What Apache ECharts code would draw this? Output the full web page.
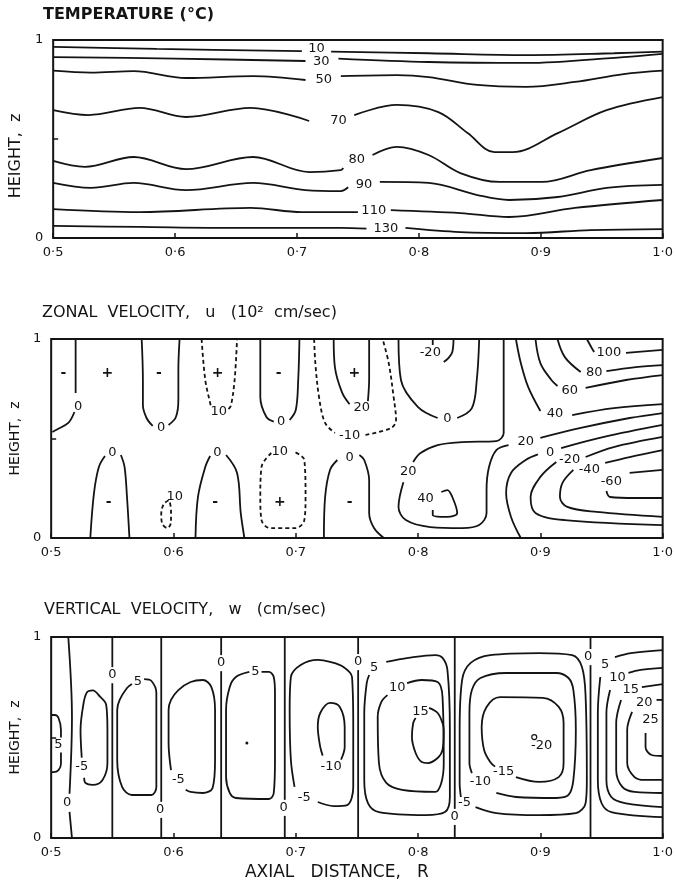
<!DOCTYPE html>
<html>
<head>
<meta charset="utf-8">
<title>Temperature and velocity sections</title>
<script src="https://cdn.jsdelivr.net/npm/echarts@6/dist/echarts.min.js"></script>
<style>
  html, body { margin: 0; padding: 0; background: #fff; }
  #chart { width: 676px; height: 882px; }
</style>
</head>
<body>
<div id="chart"></div>
<script>
// ---- data: contour lines in (R, z) with label anchors ----
const R_TICKS = ['0·5', '0·6', '0·7', '0·8', '0·9', '1·0'];
const Z_TICKS = ['0', '', '1'];

const PANEL_TITLES = [
  'TEMPERATURE (°C)',
  'ZONAL  VELOCITY,   u   (10²  cm/sec)',
  'VERTICAL  VELOCITY,   w   (cm/sec)'
];

// Temperature, °C
const temperature = [
  { level: 10, at: [[0.716, 0.955]], segs: [
    [[0.500, 0.965], [0.585, 0.955], [0.704, 0.944]],
    [[0.728, 0.941], [0.808, 0.933], [0.888, 0.924], [0.960, 0.933], [1.0, 0.941]]] },
  { level: 30, at: [[0.720, 0.889]], segs: [
    [[0.500, 0.914], [0.600, 0.906], [0.707, 0.894]],
    [[0.734, 0.906], [0.808, 0.889], [0.888, 0.884], [0.968, 0.914], [1.0, 0.930]]] },
  { level: 50, at: [[0.722, 0.798]], segs: [
    [[0.500, 0.845], [0.531, 0.835], [0.566, 0.843], [0.609, 0.808], [0.664, 0.818], [0.707, 0.798]],
    [[0.736, 0.818], [0.782, 0.823], [0.808, 0.813], [0.848, 0.773], [0.888, 0.763], [0.928, 0.788], [0.968, 0.828], [1.0, 0.845]]] },
  { level: 70, at: [[0.734, 0.591]], segs: [
    [[0.500, 0.646], [0.529, 0.621], [0.571, 0.657], [0.609, 0.611], [0.662, 0.657], [0.710, 0.591]],
    [[0.747, 0.621], [0.782, 0.672], [0.816, 0.636], [0.840, 0.530], [0.862, 0.434], [0.877, 0.434], [0.914, 0.530], [0.954, 0.646], [1.0, 0.712]]] },
  { level: 80, at: [[0.749, 0.394]], segs: [
    [[0.500, 0.389], [0.526, 0.359], [0.566, 0.409], [0.609, 0.348], [0.664, 0.409], [0.710, 0.333], [0.736, 0.343], [0.738, 0.354]],
    [[0.762, 0.419], [0.782, 0.460], [0.808, 0.419], [0.834, 0.328], [0.866, 0.283], [0.901, 0.283], [0.941, 0.343], [1.0, 0.404]]] },
  { level: 90, at: [[0.755, 0.268]], segs: [
    [[0.500, 0.278], [0.531, 0.253], [0.566, 0.278], [0.609, 0.242], [0.664, 0.278], [0.707, 0.242], [0.736, 0.237], [0.742, 0.256]],
    [[0.768, 0.283], [0.808, 0.278], [0.848, 0.217], [0.874, 0.192], [0.914, 0.207], [0.954, 0.253], [1.0, 0.268]]] },
  { level: 110, at: [[0.763, 0.136]], segs: [
    [[0.500, 0.146], [0.571, 0.131], [0.662, 0.152], [0.704, 0.131], [0.750, 0.131]],
    [[0.777, 0.141], [0.834, 0.126], [0.874, 0.106], [0.928, 0.152], [1.0, 0.192]]] },
  { level: 130, at: [[0.773, 0.045]], segs: [
    [[0.500, 0.061], [0.571, 0.056], [0.651, 0.051], [0.736, 0.051], [0.757, 0.047]],
    [[0.789, 0.051], [0.834, 0.030], [0.888, 0.025], [0.941, 0.040], [1.0, 0.045]]] }
];

// Zonal velocity, 10^2 cm/sec (dashed = 10 contours)
const zonal = [
  { level: 0, at: [[0.522, 0.658]], segs: [
    [[0.520, 1.0], [0.520, 0.86], [0.520, 0.729]],
    [[0.519, 0.633], [0.514, 0.578], [0.504, 0.543], [0.501, 0.533]]] },
  { level: 0, at: [[0.590, 0.553]], segs: [
    [[0.574, 1.0], [0.575, 0.794], [0.575, 0.668], [0.578, 0.603], [0.583, 0.563]],
    [[0.596, 0.568], [0.602, 0.608], [0.604, 0.693], [0.604, 0.844], [0.605, 1.0]]] },
  { level: 10, dashed: true, at: [[0.637, 0.633]], segs: [
    [[0.623, 1.0], [0.626, 0.794], [0.630, 0.678], [0.631, 0.655]],
    [[0.645, 0.648], [0.647, 0.665], [0.650, 0.794], [0.652, 1.0]]] },
  { level: 0, at: [[0.688, 0.583]], segs: [
    [[0.671, 1.0], [0.671, 0.709], [0.676, 0.608], [0.682, 0.585]],
    [[0.695, 0.593], [0.700, 0.643], [0.702, 0.794], [0.703, 1.0]]] },
  { level: -10, dashed: true, at: [[0.744, 0.513]], segs: [
    [[0.715, 1.0], [0.716, 0.879], [0.719, 0.709], [0.724, 0.578], [0.732, 0.528]],
    [[0.757, 0.518], [0.778, 0.553], [0.782, 0.593], [0.780, 0.709], [0.776, 0.879], [0.771, 1.0]]] },
  { level: 20, at: [[0.754, 0.653]], segs: [
    [[0.731, 1.0], [0.732, 0.859], [0.738, 0.729], [0.744, 0.672]],
    [[0.759, 0.688], [0.760, 0.80], [0.760, 1.0]]] },
  { level: 0, at: [[0.824, 0.598]], segs: [
    [[0.784, 1.0], [0.786, 0.794], [0.800, 0.658], [0.816, 0.603]],
    [[0.832, 0.603], [0.844, 0.653], [0.848, 0.794], [0.850, 1.0]]] },
  { level: -20, at: [[0.810, 0.93]], segs: [
    [[0.812, 1.0], [0.812, 0.97]],
    [[0.821, 0.884], [0.825, 0.905], [0.828, 0.935], [0.829, 1.0]]] },
  { level: 20, at: [[0.792, 0.332], [0.888, 0.482]], segs: [
    [[0.870, 1.0], [0.870, 0.70], [0.870, 0.528], [0.864, 0.487], [0.836, 0.482], [0.816, 0.467], [0.802, 0.427], [0.796, 0.382]],
    [[0.788, 0.280], [0.784, 0.156], [0.790, 0.09], [0.810, 0.055], [0.836, 0.05], [0.850, 0.065], [0.856, 0.126], [0.856, 0.241], [0.858, 0.357], [0.864, 0.442], [0.874, 0.467]],
    [[0.900, 0.503], [0.933, 0.553], [0.973, 0.603], [1.0, 0.628]]] },
  { level: 40, at: [[0.806, 0.196]], segs: [
    [[0.819, 0.231], [0.824, 0.241], [0.828, 0.206], [0.832, 0.126], [0.824, 0.106], [0.812, 0.116], [0.812, 0.141]]] },
  { level: 40, at: [[0.912, 0.623]], segs: [
    [[0.880, 1.0], [0.884, 0.879], [0.890, 0.759], [0.900, 0.638]],
    [[0.926, 0.618], [0.960, 0.653], [1.0, 0.673]]] },
  { level: 60, at: [[0.924, 0.739]], segs: [
    [[0.896, 1.0], [0.900, 0.879], [0.909, 0.794], [0.914, 0.764]],
    [[0.937, 0.754], [0.970, 0.794], [1.0, 0.819]]] },
  { level: 80, at: [[0.944, 0.829]], segs: [
    [[0.914, 1.0], [0.920, 0.909], [0.933, 0.834]],
    [[0.954, 0.839], [0.978, 0.859], [1.0, 0.869]]] },
  { level: 100, at: [[0.956, 0.93]], segs: [
    [[0.938, 1.0], [0.942, 0.955], [0.944, 0.935]],
    [[0.970, 0.93], [1.0, 0.945]]] },
  { level: 0, at: [[0.908, 0.427]], segs: [
    [[0.884, 0.0], [0.876, 0.106], [0.872, 0.226], [0.876, 0.327], [0.888, 0.392], [0.898, 0.42]],
    [[0.917, 0.452], [0.952, 0.508], [1.0, 0.568]]] },
  { level: -20, at: [[0.924, 0.392]], segs: [
    [[0.937, 0.407], [0.960, 0.457], [1.0, 0.508]],
    [[0.913, 0.382], [0.900, 0.307], [0.892, 0.206], [0.896, 0.126], [0.920, 0.09], [1.0, 0.065]]] },
  { level: -40, at: [[0.940, 0.342]], segs: [
    [[0.953, 0.377], [0.973, 0.407], [1.0, 0.442]],
    [[0.927, 0.342], [0.918, 0.276], [0.916, 0.206], [0.922, 0.156], [0.946, 0.131], [1.0, 0.106]]] },
  { level: -60, at: [[0.958, 0.281]], segs: [
    [[0.973, 0.327], [1.0, 0.342]],
    [[0.954, 0.236], [0.957, 0.206], [0.978, 0.201], [1.0, 0.201]]] },
  { level: 0, at: [[0.550, 0.427]], segs: [
    [[0.532, 0.0], [0.535, 0.226], [0.539, 0.357], [0.544, 0.412]],
    [[0.557, 0.417], [0.560, 0.357], [0.562, 0.206], [0.564, 0.0]]] },
  { level: 10, dashed: true, at: [[0.601, 0.21]], segs: [
    [[0.596, 0.19], [0.592, 0.17], [0.590, 0.12], [0.591, 0.07], [0.595, 0.05], [0.598, 0.08], [0.598, 0.14], [0.597, 0.18]]] },
  { level: 0, at: [[0.636, 0.427]], segs: [
    [[0.618, 0.0], [0.620, 0.206], [0.626, 0.357], [0.630, 0.412]],
    [[0.643, 0.417], [0.652, 0.327], [0.655, 0.126], [0.658, 0.0]]] },
  { level: 10, dashed: true, at: [[0.687, 0.432]], segs: [
    [[0.680, 0.427], [0.672, 0.357], [0.671, 0.206], [0.672, 0.09], [0.679, 0.05], [0.700, 0.05], [0.707, 0.09], [0.708, 0.206], [0.707, 0.392], [0.698, 0.435]]] },
  { level: 0, at: [[0.744, 0.402]], segs: [
    [[0.723, 0.0], [0.724, 0.206], [0.728, 0.342], [0.734, 0.392]],
    [[0.752, 0.417], [0.756, 0.392], [0.760, 0.291], [0.760, 0.126], [0.764, 0.05], [0.772, 0.0]]] }
];

// Sign marks of the zonal cells: [text, R, z]
const zonalSigns = [
  ['-', 0.510, 0.829], ['+', 0.546, 0.829], ['-', 0.588, 0.829],
  ['+', 0.636, 0.829], ['-', 0.686, 0.829], ['+', 0.748, 0.829],
  ['-', 0.547, 0.181], ['-', 0.634, 0.181], ['+', 0.687, 0.181], ['-', 0.744, 0.181]
];

// Vertical velocity, cm/sec
const vertical = [
  { level: 0, at: [[0.513, 0.174]], segs: [[[0.514, 1.0], [0.517, 0.60], [0.515, 0.22]], [[0.515, 0.13], [0.517, 0.0]]] },
  { level: 0, at: [[0.550, 0.811]], segs: [[[0.550, 1.0], [0.550, 0.85]], [[0.550, 0.77], [0.550, 0.0]]] },
  { level: 0, at: [[0.589, 0.139]], segs: [[[0.590, 1.0], [0.590, 0.18]], [[0.590, 0.10], [0.590, 0.0]]] },
  { level: 0, at: [[0.639, 0.871]], segs: [[[0.639, 1.0], [0.639, 0.91]], [[0.639, 0.83], [0.639, 0.0]]] },
  { level: 0, at: [[0.690, 0.149]], segs: [[[0.691, 1.0], [0.691, 0.19]], [[0.691, 0.11], [0.691, 0.0]]] },
  { level: 0, at: [[0.751, 0.876]], segs: [[[0.751, 1.0], [0.751, 0.915]], [[0.751, 0.835], [0.751, 0.0]]] },
  { level: 0, at: [[0.830, 0.104]], segs: [[[0.830, 1.0], [0.830, 0.145]], [[0.830, 0.065], [0.830, 0.0]]] },
  { level: 0, at: [[0.939, 0.90]], segs: [[[0.941, 1.0], [0.941, 0.94]], [[0.941, 0.86], [0.941, 0.0]]] },
  { level: 5, at: [[0.506, 0.463]], segs: [
    [[0.500, 0.612], [0.503, 0.612], [0.506, 0.597], [0.508, 0.537], [0.508, 0.50]],
    [[0.508, 0.425], [0.508, 0.37], [0.506, 0.338], [0.502, 0.328], [0.500, 0.328]]] },
  { level: -5, at: [[0.525, 0.353]], segs: [
    [[0.525, 0.40], [0.524, 0.537], [0.526, 0.652], [0.529, 0.722], [0.534, 0.734], [0.540, 0.703], [0.545, 0.662], [0.546, 0.537], [0.546, 0.373], [0.542, 0.289], [0.534, 0.264], [0.528, 0.274], [0.527, 0.30]]] },
  { level: 5, at: [[0.571, 0.776]], segs: [
    [[0.576, 0.79], [0.582, 0.781], [0.586, 0.721], [0.586, 0.537], [0.586, 0.254], [0.582, 0.214], [0.566, 0.214], [0.558, 0.254], [0.554, 0.388], [0.554, 0.637], [0.556, 0.687], [0.562, 0.746], [0.566, 0.766]]] },
  { level: -5, at: [[0.604, 0.289]], segs: [
    [[0.610, 0.24], [0.614, 0.229], [0.624, 0.224], [0.632, 0.249], [0.634, 0.388], [0.634, 0.637], [0.631, 0.751], [0.624, 0.786], [0.614, 0.776], [0.604, 0.736], [0.598, 0.687], [0.596, 0.637], [0.596, 0.473], [0.598, 0.338]]] },
  { level: 5, at: [[0.667, 0.826]], segs: [
    [[0.672, 0.826], [0.678, 0.826], [0.682, 0.801], [0.683, 0.721], [0.683, 0.388], [0.682, 0.224], [0.678, 0.194], [0.651, 0.199], [0.646, 0.224], [0.643, 0.303], [0.643, 0.637], [0.646, 0.751], [0.651, 0.801], [0.662, 0.826]]] },
  { level: -5, at: [[0.707, 0.199]], segs: [
    [[0.718, 0.179], [0.731, 0.159], [0.742, 0.164], [0.747, 0.254], [0.747, 0.552], [0.746, 0.801], [0.739, 0.851], [0.728, 0.876], [0.718, 0.886], [0.704, 0.861], [0.696, 0.801], [0.695, 0.637], [0.696, 0.388], [0.699, 0.254]]] },
  { level: -10, at: [[0.729, 0.353]], segs: [
    [[0.737, 0.39], [0.740, 0.453], [0.740, 0.552], [0.736, 0.652], [0.728, 0.672], [0.720, 0.622], [0.718, 0.552], [0.720, 0.453], [0.722, 0.41]]] },
  { level: 5, at: [[0.764, 0.846]], segs: [
    [[0.774, 0.876], [0.792, 0.896], [0.814, 0.910], [0.820, 0.896], [0.824, 0.836], [0.826, 0.537], [0.826, 0.204], [0.822, 0.129], [0.806, 0.114], [0.768, 0.129], [0.759, 0.174], [0.756, 0.289], [0.756, 0.622], [0.758, 0.771], [0.760, 0.811]]] },
  { level: 10, at: [[0.783, 0.746]], segs: [
    [[0.791, 0.771], [0.803, 0.786], [0.816, 0.776], [0.820, 0.701], [0.821, 0.373], [0.819, 0.274], [0.814, 0.229], [0.787, 0.239], [0.774, 0.274], [0.768, 0.373], [0.767, 0.602], [0.770, 0.677], [0.775, 0.711]]] },
  { level: 15, at: [[0.802, 0.627]], segs: [
    [[0.809, 0.647], [0.816, 0.622], [0.820, 0.572], [0.821, 0.537], [0.820, 0.438], [0.816, 0.398], [0.808, 0.373], [0.803, 0.378], [0.798, 0.423], [0.795, 0.502], [0.796, 0.572], [0.798, 0.597]]] },
  { level: -5, at: [[0.838, 0.174]], segs: [
    [[0.847, 0.154], [0.864, 0.124], [0.899, 0.114], [0.929, 0.124], [0.937, 0.174], [0.938, 0.289], [0.937, 0.701], [0.934, 0.851], [0.926, 0.91], [0.899, 0.92], [0.859, 0.91], [0.843, 0.871], [0.836, 0.786], [0.834, 0.537], [0.834, 0.274], [0.835, 0.204]]] },
  { level: -10, at: [[0.851, 0.279]], segs: [
    [[0.864, 0.224], [0.880, 0.204], [0.913, 0.199], [0.923, 0.214], [0.927, 0.289], [0.929, 0.537], [0.927, 0.736], [0.923, 0.796], [0.913, 0.821], [0.872, 0.821], [0.851, 0.796], [0.844, 0.736], [0.842, 0.622], [0.842, 0.373], [0.844, 0.323]]] },
  { level: -15, at: [[0.870, 0.328]], segs: [
    [[0.880, 0.303], [0.899, 0.279], [0.915, 0.303], [0.919, 0.373], [0.919, 0.572], [0.915, 0.652], [0.902, 0.697], [0.867, 0.701], [0.856, 0.652], [0.852, 0.552], [0.854, 0.438], [0.859, 0.378], [0.863, 0.355]]] },
  { level: 5, at: [[0.953, 0.861]], segs: [
    [[0.961, 0.900], [0.974, 0.920], [1.0, 0.935]],
    [[0.949, 0.801], [0.947, 0.622], [0.947, 0.289], [0.950, 0.174], [0.958, 0.129], [1.0, 0.104]]] },
  { level: 10, at: [[0.963, 0.796]], segs: [
    [[0.972, 0.821], [0.982, 0.836], [1.0, 0.846]],
    [[0.957, 0.736], [0.954, 0.622], [0.954, 0.289], [0.958, 0.204], [0.969, 0.174], [1.0, 0.154]]] },
  { level: 15, at: [[0.974, 0.736]], segs: [
    [[0.983, 0.751], [1.0, 0.766]],
    [[0.966, 0.687], [0.962, 0.572], [0.962, 0.338], [0.967, 0.254], [0.977, 0.229], [1.0, 0.224]]] },
  { level: 20, at: [[0.985, 0.672]], segs: [
    [[0.995, 0.687], [1.0, 0.687]],
    [[0.975, 0.627], [0.971, 0.537], [0.971, 0.373], [0.977, 0.303], [0.985, 0.289], [1.0, 0.289]]] },
  { level: 25, at: [[0.990, 0.587]], segs: [
    [[0.986, 0.522], [0.986, 0.453], [0.991, 0.413], [1.0, 0.408]]] }
];

// Extremum of the w cell near R = 0.9, and cell centre marks
const verticalExtrema = [{ text: '-20', at: [0.901, 0.458] }];
const verticalCentres = [[0.895, 0.502, 'open'], [0.660, 0.473, 'dot']];

// ---- styling ----
const INK = '#141414';
const FONT = '"DejaVu Sans", "Liberation Sans", sans-serif';
const GRIDS = [
  { left: 44, top: 40, width: 626, height: 198 },
  { left: 43, top: 339, width: 624, height: 199 },
  { left: 45, top: 637, width: 624, height: 201 }
];
const TITLE_TOPS = [7, 305, 602];
const LABEL_STYLE = { color: INK, fontFamily: FONT, fontSize: 13, textBorderWidth: 0, opacity: 1 };

const series = [];

// Text placed at data coordinates through a custom series
function textSeries(panel, items, extra) {
  const style = Object.assign({}, LABEL_STYLE, extra || {});
  return {
    type: 'custom', xAxisIndex: panel, yAxisIndex: panel, silent: true, z: 3,
    data: items.map(t => [t.value[0], t.value[1], t.name]),
    renderItem: (params, api) => {
      const pt = api.coord([api.value(0), api.value(1)]);
      return {
        type: 'text', x: pt[0], y: pt[1],
        style: {
          text: String(api.value(2)), fill: style.color,
          font: (style.fontWeight === 'bold' ? 'bold ' : '') + style.fontSize + 'px ' + style.fontFamily,
          align: 'center', verticalAlign: 'middle'
        }
      };
    },
    dimensions: ['R', 'z', { name: 'text', type: 'ordinal' }]
  };
}

function addContours(list, panel) {
  const labels = [];
  list.forEach(c => {
    c.segs.forEach(seg => {
      series.push({
        type: 'line', xAxisIndex: panel, yAxisIndex: panel,
        data: seg, smooth: 0.35, symbol: 'none', silent: true,
        lineStyle: { color: INK, width: 1.8, type: c.dashed ? [4, 3] : 'solid' },
        z: 2
      });
    });
    (c.at || []).forEach(p => labels.push({ value: p, name: String(c.level) }));
  });
  series.push(textSeries(panel, labels));
}

addContours(temperature, 0);
addContours(zonal, 1);
addContours(vertical, 2);

series.push(textSeries(1, zonalSigns.map(s => ({ value: [s[1], s[2]], name: s[0] })), { fontSize: 14, fontWeight: 'bold' }));
series.push(textSeries(2, verticalExtrema.map(e => ({ value: e.at, name: e.text }))));
series.push({
  type: 'scatter', xAxisIndex: 2, yAxisIndex: 2, silent: true,
  data: verticalCentres.map(c => ({
    value: [c[0], c[1]],
    symbolSize: c[2] === 'open' ? 5 : 3,
    itemStyle: c[2] === 'open'
      ? { color: '#fff', borderColor: INK, borderWidth: 1.2, opacity: 1 }
      : { color: INK, opacity: 1 }
  }))
});

const option = {
  backgroundColor: '#fff',
  animation: false,
  title: PANEL_TITLES.map((t, i) => ({
    text: t, left: GRIDS[i].left - 1, top: TITLE_TOPS[i], padding: 0,
    textStyle: {
      color: INK, fontFamily: FONT,
      fontWeight: i === 0 ? 'bold' : 'normal',
      fontSize: 16
    }
  })),
  grid: GRIDS.map(g => Object.assign({ show: true, borderColor: INK, borderWidth: 2, backgroundColor: 'transparent' }, g)),
  xAxis: GRIDS.map((g, i) => ({
    gridIndex: i, type: 'value', min: 0.5, max: 1.0, interval: 0.1,
    axisLine: { show: false }, splitLine: { show: false },
    axisTick: { show: true, inside: true, length: 5, lineStyle: { color: INK, width: 1.5 } },
    axisLabel: {
      color: INK, fontFamily: FONT, fontSize: 13, margin: 8,
      formatter: v => R_TICKS[Math.round((v - 0.5) / 0.1)]
    },
    name: i === 2 ? 'AXIAL   DISTANCE,   R' : '',
    nameLocation: 'middle', nameGap: 26,
    nameTextStyle: { color: INK, fontFamily: FONT, fontSize: 17, padding: [0, 40, 0, 0] }
  })),
  yAxis: GRIDS.map((g, i) => ({
    gridIndex: i, type: 'value', min: 0, max: 1, interval: 0.5,
    axisLine: { show: false }, splitLine: { show: false },
    axisTick: { show: true, inside: true, length: 5, lineStyle: { color: INK, width: 1.5 } },
    axisLabel: {
      color: INK, fontFamily: FONT, fontSize: 13, margin: 10,
      formatter: v => Z_TICKS[Math.round(v / 0.5)]
    },
    name: 'HEIGHT,  z', nameLocation: 'middle', nameGap: 25, nameRotate: 90,
    nameTextStyle: {
      color: INK, fontFamily: FONT, fontSize: i === 0 ? 16 : 14,
      padding: i === 0 ? [0, 34, 0, 0] : 0
    }
  })),
  series: series
};

const chart = echarts.init(document.getElementById('chart'), null, { renderer: 'canvas' });
chart.setOption(option);
</script>
</body>
</html>
